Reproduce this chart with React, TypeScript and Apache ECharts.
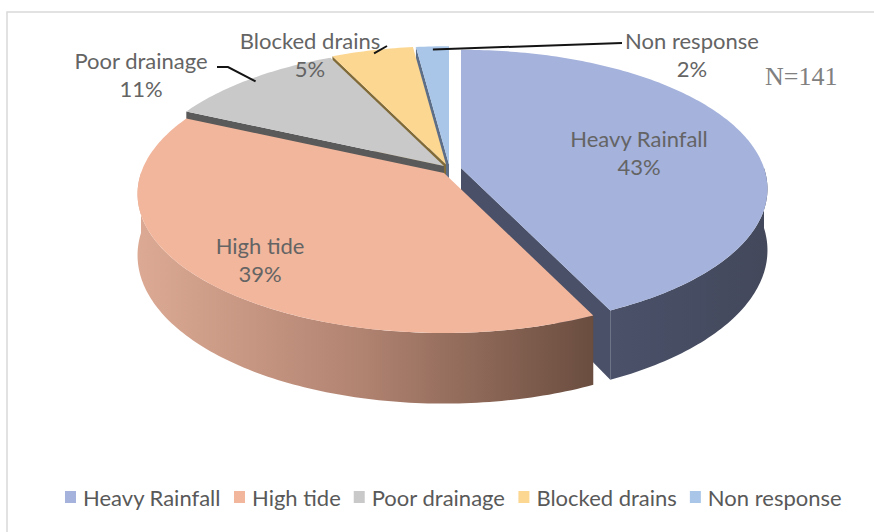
import React, { useEffect, useRef } from "react";
import * as echarts from "echarts";

// ---- data ----
const categories = ["Heavy Rainfall", "High tide", "Poor drainage", "Blocked drains", "Non response"];
const values = [43, 39, 11, 5, 2];
const sampleNote = "N=141";

// ---- styles / layout ----
const topColors = ["#a4b2dc", "#f2b69c", "#c9c9c9", "#fcd792", "#a9c6e8"];
const wallColors = ["#495067", "#7a5a4a", "#5a5a5a", "#806a38", "#5d6e88"];
const sideStops: string[][] = [
  ["#4a5169", "#43485b"],
  ["#dcaa94", "#b08270", "#6a4d3f"],
  ["#8a8a8a", "#6a6a6a"],
  ["#b89a5a", "#8a7040"],
  ["#7d93b0", "#5d6e88"],
];
const sliceOffsets = [[17, -5], [0, 0], [0, -7], [2, -8.5], [5, -8.5]];
const labelCenters = [[639, 152], [260, 259], [141, 74], [310, 54], [692, 54]];
const leaderStarts: (number[][] | null)[] = [null, null, [[217, 67], [228, 67]], [[387, 46]], [[622, 43]]];

const FONT = "Lato, 'Noto Sans', sans-serif";
const CX = 444, CY = 173, RX = 303, RY = 136, PERSP = 0.15, DEPTH = 60;
const total = values.reduce((s, v) => s + v, 0);
const START = -Math.PI / 2;

function proj(a: number, r: number, d: number, off: number[]) {
  const u = r * Math.cos(a), v = r * Math.sin(a);
  const w = 1 / (1 - PERSP * v);
  return [CX + RX * u * w + off[0], CY + RY * v * w + d * DEPTH * w + off[1]];
}

function makeRender(i: number) {
  return (_params: any, api: any) => {
    const val = api.value(0) as number;
    let cum = 0;
    for (let k = 0; k < i; k++) cum += values[k];
    const a0 = START + (cum / total) * Math.PI * 2;
    const a1 = a0 + (val / total) * Math.PI * 2;
    const off = sliceOffsets[i];
    const P = (a: number, r: number, d: number) => proj(a, r, d, off);
    const arc = (from: number, to: number, d: number) => {
      const n = Math.max(2, Math.ceil((to - from) / (Math.PI / 180)));
      const pts: number[][] = [];
      for (let j = 0; j <= n; j++) pts.push(P(from + ((to - from) * j) / n, 1, d));
      return pts;
    };
    const wall = (a: number) => ({
      type: "polygon",
      z2: 10 + Math.round((Math.sin(a) + 1) * 10),
      shape: { points: [P(a, 0, 0), P(a, 1, 0), P(a, 1, 1), P(a, 0, 1)] },
      style: { fill: wallColors[i] },
    });
    const children: any[] = [];
    if (Math.cos(a0) < -1e-6) children.push(wall(a0));
    if (Math.cos(a1) > 1e-6) children.push(wall(a1));
    const lo = Math.max(a0, 0), hi = Math.min(a1, Math.PI);
    if (hi > lo) {
      const top = arc(lo, hi, 0);
      const bot = arc(lo, hi, 1).reverse();
      const stops = sideStops[i].map((c, k, arr) => ({ offset: k / (arr.length - 1), color: c }));
      children.push({
        type: "polygon", z2: 40,
        shape: { points: top.concat(bot) },
        style: { fill: new echarts.graphic.LinearGradient(0, 0, 1, 0, stops) },
      });
    }
    children.push({
      type: "polygon", z2: 50,
      shape: { points: [P(a0, 0, 0)].concat(arc(a0, a1, 0)) },
      style: { fill: topColors[i] },
    });
    const pct = Math.round((val / total) * 100) + "%";
    children.push({
      type: "text", z2: 70,
      style: {
        text: categories[i] + "\n" + pct,
        x: labelCenters[i][0], y: labelCenters[i][1],
        align: "center", verticalAlign: "middle",
        fill: "#646464", fontSize: 22, fontFamily: FONT, lineHeight: 28,
      },
    });
    const ls = leaderStarts[i];
    if (ls) {
      const mid = (a0 + a1) / 2;
      children.push({
        type: "polyline", z2: 60,
        shape: { points: ls.concat([P(mid, 0.97, 0)]) },
        style: { stroke: "#141414", lineWidth: 2, fill: "none" },
      });
    }
    return { type: "group", children };
  };
}

export default function App() {
  const ref = useRef<HTMLDivElement>(null);
  useEffect(() => {
    if (!ref.current) return;
    const chart = echarts.init(ref.current, undefined, { renderer: "svg" });
    chart.setOption({
      animation: false,
      backgroundColor: "#ffffff",
      legend: {
        data: categories,
        left: 65,
        top: 486,
        padding: 0,
        icon: "rect",
        itemWidth: 11,
        itemHeight: 12,
        itemGap: 13,
        selectedMode: false,
        textStyle: { color: "#595959", fontSize: 22, fontFamily: FONT, padding: [0, 0, 0, 2] },
      },
      graphic: [
        {
          type: "rect",
          shape: { x: 7, y: 12, width: 1200, height: 1200 },
          style: { fill: "none", stroke: "#d9d9d9", lineWidth: 1.5 },
          silent: true,
        },
        {
          type: "text",
          x: 765,
          y: 76,
          style: {
            text: sampleNote,
            fill: "#808080",
            fontSize: 26,
            fontFamily: "'Liberation Serif', 'DejaVu Serif', serif",
            verticalAlign: "middle",
          },
          silent: true,
        },
      ],
      series: categories.map((name, i) => ({
        type: "custom",
        name,
        coordinateSystem: "none",
        silent: true,
        itemStyle: { color: topColors[i] },
        data: [[values[i]]],
        renderItem: makeRender(i),
      })),
    });
    return () => chart.dispose();
  }, []);
  return (
    <div
      ref={ref}
      style={{ position: "absolute", left: 0, top: 0, width: 874, height: 532, background: "#fff" }}
    />
  );
}
